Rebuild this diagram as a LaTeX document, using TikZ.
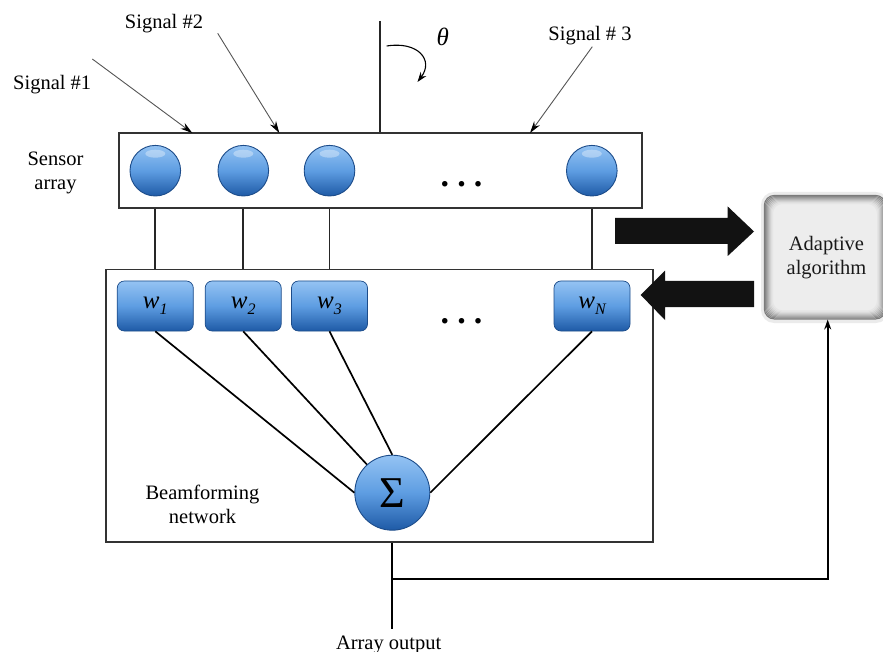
\documentclass[tikz,border=0pt]{standalone}
\usepackage{fontspec}
\setmainfont{Liberation Serif}
\usetikzlibrary{arrows.meta,calc}

\definecolor{boxline}{HTML}{333333}
\definecolor{blueTop}{HTML}{94C3F3}
\definecolor{blueMid}{HTML}{5E9DE2}
\definecolor{blueBot}{HTML}{1E5AA6}
\definecolor{blueEdge}{HTML}{1C4C8A}
\definecolor{algoFill}{HTML}{EDEDED}
\definecolor{sigline}{HTML}{555555}

\newcommand\wlab[1]{\fontsize{25}{25}\selectfont\itshape w\raisebox{-5.5pt}{\fontsize{16}{16}\selectfont\itshape #1}}

\tikzset{
  lbl/.style={font=\fontsize{20.5}{24}\selectfont, align=center, inner sep=0pt, text=black},
  frame/.style={draw=boxline, line width=1.4pt, fill=white, inner sep=0pt},
  sensor/.style={circle, minimum size=50.6pt, inner sep=0pt, draw=blueEdge, line width=0.9pt,
    top color=blueTop, bottom color=blueBot, middle color=blueMid},
  weight/.style={rectangle, rounded corners=7pt, minimum width=76pt, minimum height=50pt, inner sep=0pt,
    draw=blueEdge, line width=0.7pt, top color=blueTop, bottom color=blueBot, middle color=blueMid},
  sumnode/.style={circle, minimum size=75pt, inner sep=0pt, draw=blueEdge, line width=0.9pt,
    top color=blueTop, bottom color=blueBot, middle color=blueMid, font=\fontsize{44}{44}\selectfont},
  wire/.style={line width=1.7pt, black},
  vline/.style={line width=1.8pt, black!85},
  sig/.style={line width=0.9pt, draw=sigline, -{Stealth[length=12pt,width=7pt,black]}},
  thetaarrow/.style={line width=1.1pt, black, -{Stealth[length=10pt,width=7pt]}},
  fat/.style={fill=black!93},
  dots/.style={font=\fontsize{34}{34}\selectfont\bfseries, inner sep=0pt},
  algobox/.style={rectangle, rounded corners=11pt, minimum width=122pt, minimum height=124.3pt,
    fill=algoFill, inner sep=0pt},
}

\begin{document}
\begin{tikzpicture}[x=1pt,y=-1pt]
\useasboundingbox (0,0) rectangle (883,652);

% boxes
\node[frame, minimum width=523pt, minimum height=75pt] (sa) at (380.5,170.5) {};
\node[frame, minimum width=547pt, minimum height=272.7pt] (bf) at (379.5,405.7) {};

% reference line and theta
\coordinate (ref) at (380,21);
\draw[line width=1.9pt, black!85] (ref) -- (ref |- sa.north);
\node[font=\fontsize{25}{25}\selectfont\itshape, inner sep=0pt] (theta) at (442.7,36.7) {θ};
\coordinate (ta) at (386.7,46);
\coordinate (tb) at (417.5,82);
\draw[thetaarrow] (ta) .. controls (418,41) and (434,60) .. (tb);

% signals
\node[lbl, anchor=base] (sig1) at (52.2,90) {Signal \#1};
\node[lbl, anchor=base] (sig2) at (164,28.5) {Signal \#2};
\node[lbl, anchor=base] (sig3) at (590,41) {Signal \# 3};
\coordinate (a1) at (92.3,59);   \coordinate (e1) at (192.3,133);
\coordinate (a2) at (217.7,33.3); \coordinate (e2) at (279.3,133);
\coordinate (a3) at (592.3,46.7); \coordinate (e3) at (530,133);
\draw[sig] (a1) -- (e1);
\draw[sig] (a2) -- (e2);
\draw[sig] (a3) -- (e3);

% labels
\node[lbl] (salbl) at (55.5,173) {Sensor\\array};
\node[lbl] (bflbl) at (202.5,504.5) {Beamforming\\network};

% sensors
\foreach \n/\x in {s1/155.3, s2/243.3, s3/329.5, sN/591.8}
  \node[sensor] (\n) at (\x,170.7) {};
\foreach \n in {s1,s2,s3,sN}
  \fill[white, opacity=0.35] ($(\n.center)+(0,-17)$) ellipse [x radius=10pt, y radius=4pt];
\node[dots, anchor=base] (sdots) at (461.5,186.8) {.\hspace{8.2pt}.\hspace{8.2pt}.};

% weights
\foreach \n/\x/\s in {w1/155.3/1, w2/243.2/2, w3/329.5/3, wN/592/N}
  \node[weight] (\n) at (\x,306) {\wlab{\s}};
\node[dots, anchor=base] (wdots) at (461.5,323.5) {.\hspace{8.2pt}.\hspace{8.2pt}.};

% vertical links
\foreach \n in {s1,s2,s3,sN}
  \draw[vline] (\n |- sa.south) -- (\n |- bf.north);

% summation
\node[sumnode] (sum) at (392.3,492.7) {Σ};
\draw[wire] (w1.south) -- (sum.west);
\draw[wire] (w2.south) -- (sum.132);
\draw[wire] (w3.south) -- (sum.north);
\draw[wire] (wN.south) -- (sum.east);

% adaptive algorithm box
\fill[black!8, rounded corners=13pt] (761,192) rectangle (889,323);
\node[algobox] (algo) at (825,257.2) {};
\foreach \i/\c in {0.6/52,1.6/47,2.6/41,3.6/35,4.6/29,5.6/23,6.6/18,7.6/13,8.6/10}
  \draw[black!\c, line width=1.2pt, rounded corners=10pt]
    ($(algo.north west)+(\i,\i)$) rectangle ($(algo.south east)+(-\i,-\i)$);
\node[lbl, text=black!90] (algolbl) at (826.5,258) {Adaptive\\algorithm};

% fat arrows
\fill[fat] (615,218) -- (727.7,218) -- (727.7,206.5) -- (754,231.5) -- (727.7,256) -- (727.7,244) -- (615,244) -- cycle;
\fill[fat] (754,281) -- (665,281) -- (665,270.7) -- (640.7,295) -- (665,320) -- (665,307) -- (754,307) -- cycle;

% output
\coordinate (out) at (392.3,629);
\coordinate (fb) at (392.3,579);
\draw[wire] (sum |- bf.south) -- (out);
\node[lbl, anchor=base] (outlbl) at (388.7,649) {Array output};
\draw[wire, -{Stealth[length=10pt,width=7pt]}] (fb) -| ([xshift=2.7pt]algo.south);
\end{tikzpicture}
\end{document}
